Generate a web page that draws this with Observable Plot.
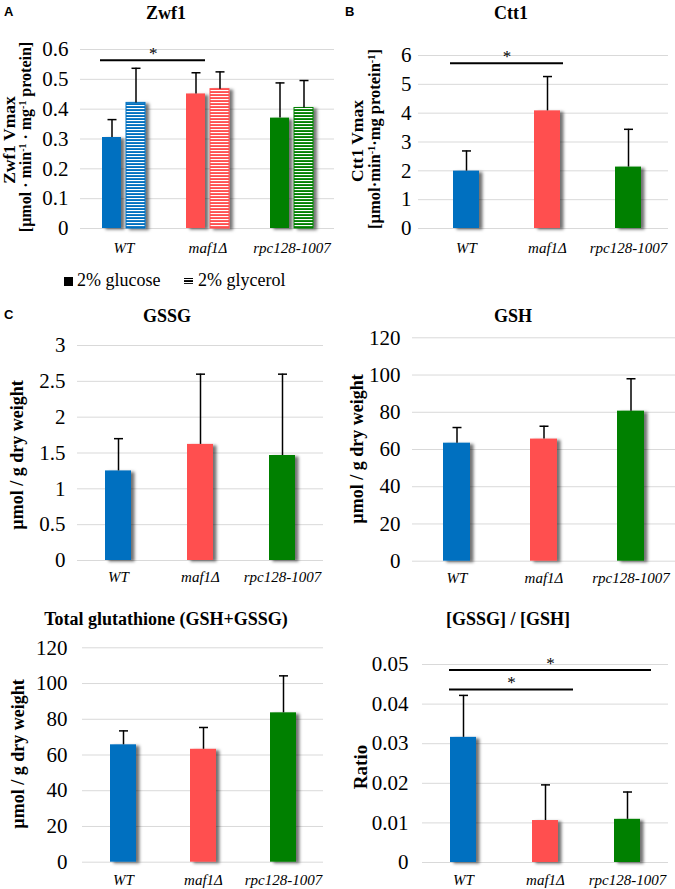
<!DOCTYPE html>
<html>
<head>
<meta charset="utf-8">
<script src="https://cdn.jsdelivr.net/npm/d3@7"></script>
<script src="https://cdn.jsdelivr.net/npm/@observablehq/plot@0.6"></script>
<style>
  body { margin: 0; background: #fff; }
  #fig { position: relative; width: 675px; height: 889px; overflow: hidden; background: #fff;
         font-family: "Liberation Serif", "Times New Roman", serif; }
  #fig > svg { position: absolute; }
  #fig svg text { font-family: "Liberation Serif", "Times New Roman", serif; }
  #fig svg text.sans { font-family: "Liberation Sans", Arial, sans-serif; }
</style>
</head>
<body>
<svg width="0" height="0" style="position:absolute">
  <defs>
    <pattern id="stripe-0" patternUnits="userSpaceOnUse" width="6" height="3">
      <rect width="6" height="3" fill="#0070C0"></rect><rect y="0" width="6" height="1.1" fill="#fff"></rect>
    </pattern>
    <pattern id="stripe-1" patternUnits="userSpaceOnUse" width="6" height="3">
      <rect width="6" height="3" fill="#FF5050"></rect><rect y="0" width="6" height="1.1" fill="#fff"></rect>
    </pattern>
    <pattern id="stripe-2" patternUnits="userSpaceOnUse" width="6" height="3">
      <rect width="6" height="3" fill="#008000"></rect><rect y="0" width="6" height="1.1" fill="#fff"></rect>
    </pattern>
    <pattern id="stripe-k" patternUnits="userSpaceOnUse" width="6" height="3">
      <rect width="6" height="3" fill="#000"></rect><rect y="0" width="6" height="1.1" fill="#fff"></rect>
    </pattern>
    <filter id="shadow" x="-0.5" y="-0.2" width="2.4" height="1.5">
      <feDropShadow dx="3.5" dy="1.5" stdDeviation="1.6" flood-color="#000" flood-opacity="0.55"></feDropShadow>
    </filter>
  </defs>
</svg>
<div id="fig"></div>
<script>
// ---------- data ----------
const strains = ["WT", "maf1Δ", "rpc128-1007"];
const strainColors = ["#0070C0", "#FF5050", "#008000"];
const stripeFills = ["url(#stripe-0)", "url(#stripe-1)", "url(#stripe-2)"];

// A: Zwf1 Vmax
const zwf1Glucose = [0.305, 0.451, 0.370];
const zwf1GlucoseSD = [0.060, 0.071, 0.118];
const zwf1Glycerol = [0.421, 0.467, 0.404];
const zwf1GlycerolSD = [0.116, 0.058, 0.092];
const zwf1Ticks = [0, 0.1, 0.2, 0.3, 0.4, 0.5, 0.6];
const zwf1Sig = [{from: "WT", to: "maf1Δ", y: 0.564}];

// B: Ctt1 Vmax
const ctt1 = [1.99, 4.08, 2.13];
const ctt1SD = [0.70, 1.19, 1.31];
const ctt1Ticks = [0, 1, 2, 3, 4, 5, 6];
const ctt1Sig = [{from: "WT", to: "maf1Δ", y: 5.73}];

// C: GSSG
const gssg = [1.25, 1.62, 1.465];
const gssgSD = [0.45, 0.98, 1.135];
const gssgTicks = [0, 0.5, 1, 1.5, 2, 2.5, 3];

// C: GSH
const gsh = [63.4, 65.6, 80.6];
const gshSD = [8.4, 6.9, 17.4];
const gshTicks = [0, 20, 40, 60, 80, 100, 120];

// C: Total glutathione
const totalGlu = [65.7, 63.2, 83.6];
const totalGluSD = [7.8, 12.2, 20.7];
const totalTicks = [0, 20, 40, 60, 80, 100, 120];

// C: [GSSG]/[GSH]
const ratio = [0.0316, 0.0106, 0.0109];
const ratioSD = [0.0106, 0.0090, 0.0069];
const ratioTicks = [0, 0.01, 0.02, 0.03, 0.04, 0.05];
const ratioSig = [{from: "WT", to: "maf1Δ", y: 0.0437}, {from: "WT", to: "rpc128-1007", y: 0.0486}];

// ---------- helpers ----------
const SERIF = '"Liberation Serif", "Times New Roman", serif';
const fig = document.getElementById("fig");
const capSymbol = { draw(ctx) { ctx.moveTo(-4.5, 0); ctx.lineTo(4.5, 0); } };

function rows(values, sd, fills, strokes) {
  return strains.map((s, i) => ({strain: s, value: values[i], top: values[i] + sd[i], fill: fills[i], stroke: strokes[i]}));
}

function panel(cfg) {
  const {left, top, width, height, mt, mr, mb, ml, xRange, groupWidth, ticks, tickPad, xPad, series, sig = [], sigExt = []} = cfg;
  const r0 = xRange ? xRange[0] : ml, r1 = xRange ? xRange[1] : width - mr;
  const step = (r1 - r0) / strains.length;
  const pad = 1 - groupWidth / step;
  const marks = [
    Plot.gridY({ticks, stroke: "#d9d9d9", strokeOpacity: 1, strokeWidth: 1}),
    Plot.axisY({ticks, tickSize: 0, tickPadding: tickPad, fontSize: 21, fontFamily: SERIF, tickFormat: d => String(d), label: null}),
    Plot.axisX({tickSize: 0, tickPadding: xPad, fontSize: 15, fontFamily: SERIF, fontStyle: "italic", label: null})
  ];
  for (const s of series) {
    marks.push(Plot.barY(s.data, {x: "strain", y1: 0, y2: "value", fill: "fill", stroke: "stroke", strokeWidth: s.striped ? 1 : 0, insetLeft: s.insetLeft || 0, insetRight: s.insetRight || 0}));
  }
  for (const s of series) {
    marks.push(Plot.ruleX(s.data, {x: "strain", y1: "value", y2: "top", dx: s.dx || 0, stroke: "#000", strokeWidth: 1.5}));
    marks.push(Plot.dot(s.data, {x: "strain", y: "top", dx: s.dx || 0, symbol: capSymbol, stroke: "#000", fill: "none", strokeWidth: 1.5}));
  }
  sig.forEach((d, k) => {
    const [eL, eR] = sigExt[k];
    const i0 = strains.indexOf(d.from), i1 = strains.indexOf(d.to);
    const mid = ((i1 - i0) * step + eR - eL) / 2;
    marks.push(Plot.ruleY([d], {x1: "from", x2: "to", y: "y", insetLeft: -eL, insetRight: -eR, stroke: "#000", strokeWidth: 2}));
    marks.push(Plot.text([d], {x: "from", y: "y", text: () => "*", dx: mid, dy: -1, lineAnchor: "bottom", fontSize: 17, fontFamily: SERIF, fill: "#000"}));
  });
  const xOpts = {domain: strains, paddingInner: pad, paddingOuter: pad / 2};
  if (xRange) xOpts.range = xRange;
  const svg = Plot.plot({
    width, height, marginTop: mt, marginRight: mr, marginBottom: mb, marginLeft: ml,
    x: xOpts,
    y: {domain: [0, ticks[ticks.length - 1]]},
    color: {type: "identity"},
    style: {fontFamily: SERIF, color: "#000", background: "transparent", overflow: "visible"},
    marks
  });
  svg.style.left = left + "px";
  svg.style.top = top + "px";
  d3.select(svg).selectAll("g[aria-label=bar] rect").attr("filter", "url(#shadow)");
  fig.appendChild(svg);
  return svg;
}

function single(values, sd) {
  return [{data: rows(values, sd, strainColors, strainColors)}];
}

// A
panel({left: 0, top: 0, width: 340, height: 262, mt: 49, mr: 6, mb: 34, ml: 80,
  groupWidth: 43, ticks: zwf1Ticks, tickPad: 12, xPad: 14,
  series: [
    {data: rows(zwf1Glucose, zwf1GlucoseSD, strainColors, strainColors), insetRight: 24, dx: -12},
    {data: rows(zwf1Glycerol, zwf1GlycerolSD, stripeFills, strainColors), insetLeft: 24, dx: 12, striped: true}
  ],
  sig: zwf1Sig, sigExt: [[2, -24]]});

// B
panel({left: 340, top: 0, width: 335, height: 262, mt: 55, mr: 7, mb: 34, ml: 78, xRange: [85.5, 328.5],
  groupWidth: 26, ticks: ctt1Ticks, tickPad: 7, xPad: 14,
  series: single(ctt1, ctt1SD), sig: ctt1Sig, sigExt: [[3, 3]]});

// C GSSG
panel({left: 0, top: 300, width: 340, height: 290, mt: 45, mr: 17, mb: 30, ml: 77,
  groupWidth: 25.5, ticks: gssgTicks, tickPad: 12, xPad: 11, series: single(gssg, gssgSD)});

// C GSH
panel({left: 340, top: 300, width: 335, height: 290, mt: 37.3, mr: 0, mb: 29.3, ml: 72,
  groupWidth: 27.5, ticks: gshTicks, tickPad: 12, xPad: 11, series: single(gsh, gshSD)});

// C Total
panel({left: 0, top: 590, width: 340, height: 299, mt: 57.3, mr: 17, mb: 27.3, ml: 82,
  groupWidth: 25.7, ticks: totalTicks, tickPad: 15, xPad: 12, series: single(totalGlu, totalGluSD)});

// C Ratio
panel({left: 340, top: 590, width: 335, height: 299, mt: 74, mr: 7, mb: 27, ml: 82,
  groupWidth: 25.7, ticks: ratioTicks, tickPad: 14, xPad: 12, series: single(ratio, ratioSD),
  sig: ratioSig, sigExt: [[1, 15], [1, 11]]});

// ---------- text overlay: titles, panel letters, axis labels, legend ----------
const ov = d3.select(fig).append("svg").attr("width", 675).attr("height", 889)
  .style("left", "0px").style("top", "0px").style("pointer-events", "none")
  .style("font-family", SERIF);

const titles = [
  {t: "Zwf1", x: 166, y: 19}, {t: "Ctt1", x: 511, y: 19},
  {t: "GSSG", x: 167, y: 322}, {t: "GSH", x: 513, y: 322},
  {t: "Total glutathione (GSH+GSSG)", x: 166, y: 625}, {t: "[GSSG] / [GSH]", x: 508, y: 625}
];
for (const d of titles) ov.append("text").attr("x", d.x).attr("y", d.y).attr("text-anchor", "middle")
  .attr("font-weight", "bold").attr("font-size", 18).text(d.t);

for (const d of [{t: "A", x: 4, y: 16}, {t: "B", x: 345, y: 16}, {t: "C", x: 4, y: 319}])
  ov.append("text").attr("class", "sans").attr("x", d.x).attr("y", d.y)
    .attr("font-weight", "bold").attr("font-size", 13).text(d.t);

function ylab(x, y, size, parts) {
  const t = ov.append("text").attr("transform", `translate(${x},${y}) rotate(-90)`).attr("text-anchor", "middle")
    .attr("font-weight", "bold").attr("font-size", size);
  for (const p of parts) {
    const s = t.append("tspan").text(p[0]);
    if (p[1]) s.attr("baseline-shift", "super").attr("font-size", size * 0.62);
  }
}
ylab(15, 140, 17.5, [["Zwf1 Vmax"]]);
ylab(31, 137, 16, [["[µmol · min"], ["-1", 1], [" · mg"], ["-1", 1], [" protein]"]]);
ylab(363, 141, 17.5, [["Ctt1 Vmax"]]);
ylab(380, 139, 16.5, [["[µmol·min"], ["-1", 1], ["·mg protein"], ["-1", 1], ["]"]]);
ylab(23, 455, 18, [["µmol / g dry weight"]]);
ylab(363, 449, 18, [["µmol / g dry weight"]]);
ylab(24, 754, 18, [["µmol / g dry weight"]]);
ylab(367, 767, 19, [["Ratio"]]);

// legend
ov.append("rect").attr("x", 64).attr("y", 277).attr("width", 9).attr("height", 9).attr("fill", "#000");
ov.append("text").attr("x", 77).attr("y", 286).attr("font-size", 18).text("2% glucose");
ov.append("rect").attr("x", 184).attr("y", 278).attr("width", 9).attr("height", 6).attr("fill", "url(#stripe-k)");
ov.append("text").attr("x", 198).attr("y", 286).attr("font-size", 18).text("2% glycerol");
</script>
</body>
</html>
